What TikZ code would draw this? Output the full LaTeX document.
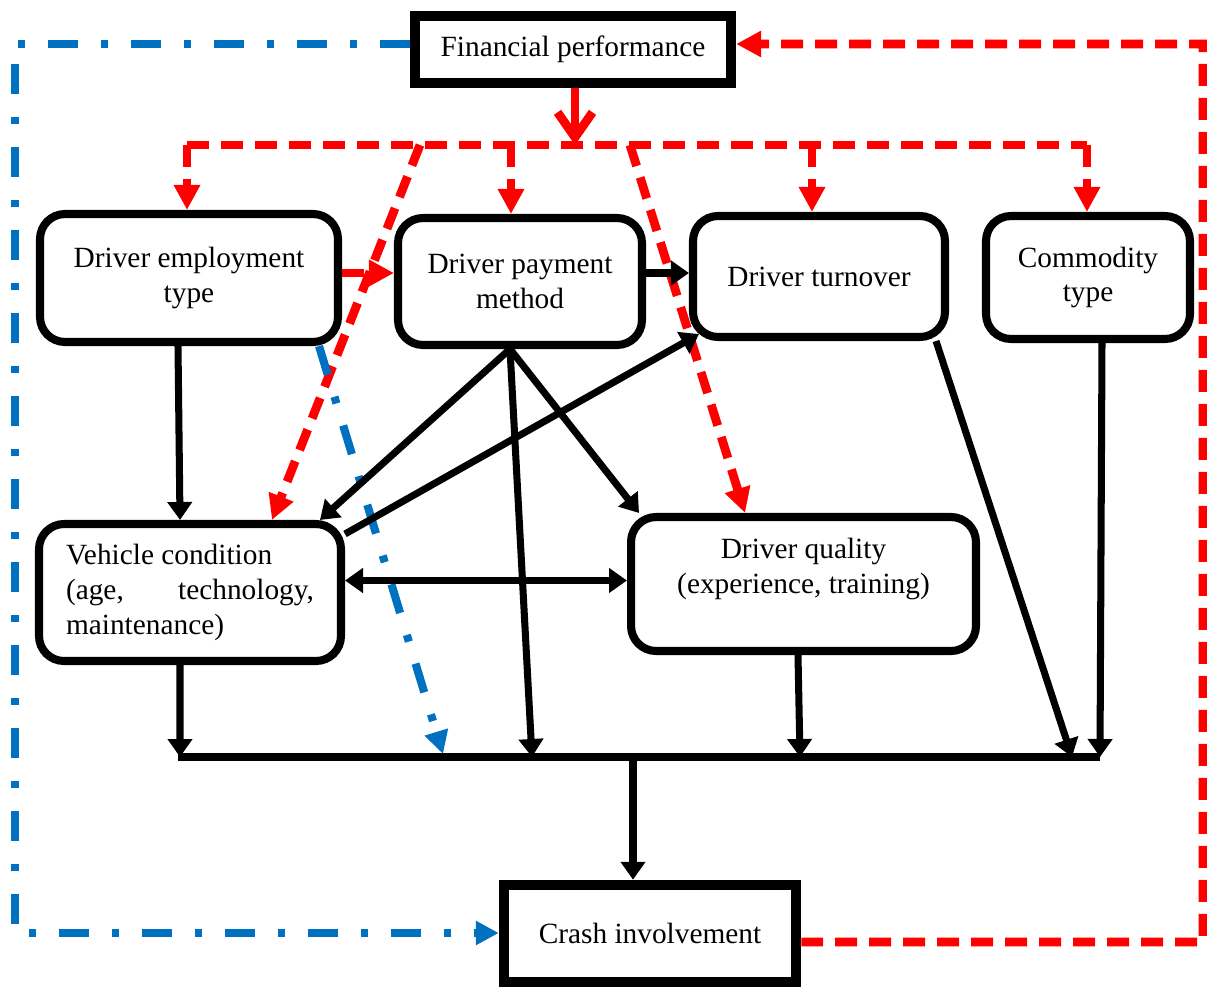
\documentclass[tikz,border=0pt]{standalone}
\usepackage{fontspec}
\setmainfont{Liberation Serif}
\usetikzlibrary{arrows.meta,calc}

\definecolor{fbred}{RGB}{255,0,0}
\definecolor{fbblue}{RGB}{0,112,192}

\begin{document}
\begin{tikzpicture}[x=0.02cm,y=-0.02cm,
  font=\fontsize{16.7}{19.9}\selectfont,
  box/.style={draw,line width=4.6pt,rounded corners=0.5cm,align=center,inner sep=0pt},
  mainbox/.style={draw,line width=6pt,align=center,inner sep=0pt},
  blk/.style={line width=4pt,-{Triangle[length=0.36cm,width=0.48cm]}},
  reddash/.style={draw=fbred,line width=5pt,dash pattern=on 0.44cm off 0.24cm},
  redarr/.style={reddash,-{Triangle[length=0.5cm,width=0.5cm]}},
  bluedash/.style={draw=fbblue,line width=4.6pt,dash pattern=on 0.6cm off 0.46cm on 0.14cm off 0.46cm},
  bluearr/.style={bluedash,-{Triangle[length=0.46cm,width=0.46cm]}}]
\useasboundingbox (0,0) rectangle (1207,990);

\node[mainbox,minimum width=6.32cm,minimum height=1.34cm] (fin) at (573,49.5) {Financial performance};
\node[box,minimum width=5.96cm,minimum height=2.56cm] (emp) at (189,278) {Driver employment\\type};
\node[box,minimum width=4.88cm,minimum height=2.54cm] (pay) at (520,281.5) {Driver payment\\method};
\node[box,minimum width=5.04cm,minimum height=2.42cm] (turn) at (819,276.5) {Driver turnover};
\node[box,minimum width=4.08cm,minimum height=2.46cm] (comm) at (1088,277.5) {Commodity\\type};
\node[box,align=left,minimum width=6.04cm,minimum height=2.74cm] (veh) at (190,592.5) {Vehicle condition\\\makebox[4.96cm][s]{(age, technology,}\\maintenance)};
\node[box,text depth=0.72cm,minimum width=6.9cm,minimum height=2.68cm] (qual) at (803.5,584) {Driver quality\\(experience, training)};
\node[mainbox,minimum width=5.84cm,minimum height=1.94cm] (crash) at (650,933.5) {Crash involvement};

\coordinate (rmid) at (575,145);
\coordinate (r1) at (187,145);
\coordinate (r2) at (511,145);
\coordinate (r3) at (812,145);
\coordinate (r4) at (1087,145);
\coordinate (rl) at (420,145);
\coordinate (rr) at (630,145);
\coordinate (rbot) at (1203,942);
\coordinate (rtop) at (1203,44);
\coordinate (btop) at (15,44);
\coordinate (bbot) at (15,933);

\coordinate (s1) at (178,757);
\coordinate (s2) at (1100,757);
\coordinate (sv) at (180,757);
\coordinate (sb) at (443,754);
\coordinate (sp) at (532,757);
\coordinate (sq) at (800,757);
\coordinate (st) at (1072,757);
\coordinate (sc) at (1100,757);
\coordinate (sx) at (633,757);

\draw[fbred,line width=5pt,-{Straight Barb[length=0.5cm,width=0.7cm]}] (fin.south -| rmid) -- (rmid);
\draw[reddash] (r1) -- (r4);
\draw[redarr] (r1) -- (r1 |- emp.north);
\draw[redarr] (r2) -- (r2 |- pay.north);
\draw[redarr] (r3) -- (r3 |- turn.north);
\draw[redarr] (r4) -- (r4 |- comm.north);
\draw[redarr] (rl) -- ([xshift=1.64cm]veh.north);
\draw[redarr] (rr) -- ([xshift=-1.17cm]qual.north);
\draw[redarr] ([yshift=0.1cm]emp.east) -- ([yshift=0.1cm]emp.east -| pay.west);
\draw[redarr] ([yshift=-0.17cm]crash.east) -- (rbot) -- (rtop) -- (rtop -| fin.east);

\draw[bluearr] (btop -| fin.west) -- (btop) -- (bbot) -- (bbot -| crash.west);
\draw[bluearr] ([xshift=-0.46cm]emp.south east) -- (sb);

\draw[blk] ([yshift=0.17cm]pay.east) -- ([yshift=0.17cm]pay.east -| turn.west);
\draw[blk] ([xshift=-0.22cm]emp.south) -- ([xshift=-0.2cm]veh.north);
\draw[blk] ([xshift=-0.2cm]pay.south) -- ([xshift=2.6cm]veh.north);
\draw[blk] ([xshift=-0.2cm]pay.south) -- ([xshift=0.24cm]qual.north west);
\draw[blk] ([xshift=-0.2cm]pay.south) -- (sp);
\draw[blk] ([yshift=-0.28cm]veh.north east) -- ([shift={(0.2cm,0.14cm)}]turn.south west);
\draw[blk,{Triangle[length=0.36cm,width=0.48cm]}-{Triangle[length=0.36cm,width=0.48cm]}] ([yshift=0.24cm]veh.east) -- ([yshift=0.24cm]veh.east -| qual.west);
\draw[blk] ([xshift=-0.2cm]veh.south) -- (sv);
\draw[blk] ([xshift=-0.11cm]qual.south) -- (sq);
\draw[blk] ([xshift=-0.26cm]turn.south east) -- (st);
\draw[blk] ([xshift=0.28cm]comm.south) -- (sc);
\draw[line width=4pt] (s1) -- (s2);
\draw[blk] (sx) -- (sx |- crash.north);
\end{tikzpicture}
\end{document}
